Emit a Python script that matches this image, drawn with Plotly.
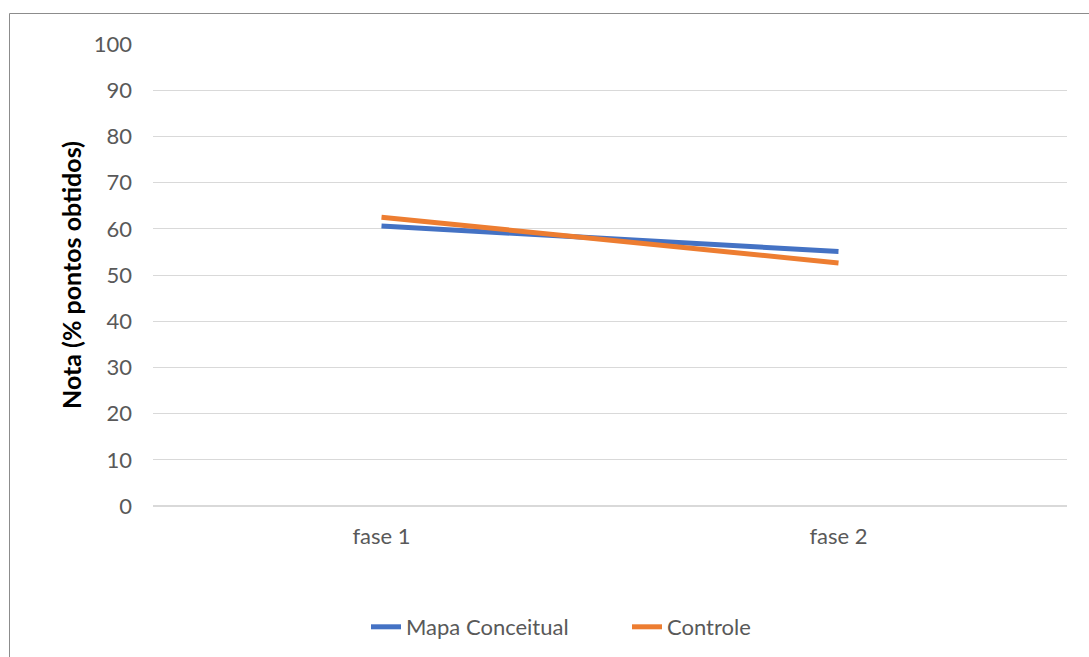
import plotly.graph_objects as go

categorias = ["fase 1", "fase 2"]
mapa_conceitual = [60.6, 55.1]
controle = [62.5, 52.6]
y_ticks = [0, 10, 20, 30, 40, 50, 60, 70, 80, 90, 100]

W, H = 1089, 657
L, R, T, B = 153, 22, 44, 151
pw, ph = W - L - R, H - T - B

def px_x(p):
    return (p - L) / pw

def px_y(p):
    return (H - B - p) / ph

fig = go.Figure()
fig.add_trace(go.Scatter(x=categorias, y=mapa_conceitual, mode="lines", name="Mapa Conceitual",
                         line=dict(color="#4472C4", width=5)))
fig.add_trace(go.Scatter(x=categorias, y=controle, mode="lines", name="Controle",
                         line=dict(color="#ED7D31", width=5)))

fig.update_layout(
    width=W, height=H,
    margin=dict(l=L, r=R, t=T, b=B, autoexpand=False),
    paper_bgcolor="white", plot_bgcolor="white",
    font=dict(family="Lato, sans-serif", color="#595959", size=22),
    showlegend=True,
    legend=dict(orientation="h", x=px_x(366), xanchor="left", y=px_y(627), yanchor="middle",
                font=dict(size=22, color="#595959"), entrywidth=216, entrywidthmode="pixels"),
    xaxis=dict(type="category", range=[-0.5, 1.5], showgrid=False, ticks="",
               showline=False, tickfont=dict(size=22), ticklabelstandoff=15),
    yaxis=dict(range=[0, 100], tickvals=y_ticks, showgrid=True, gridcolor="#D9D9D9",
               gridwidth=1, zeroline=True, zerolinecolor="#D9D9D9", zerolinewidth=1.5,
               ticks="", ticklabelstandoff=20, tickfont=dict(size=22),
               title=dict(text="<b>Nota (% pontos obtidos)</b>", standoff=4,
                          font=dict(size=25, color="black"))),
    shapes=[dict(type="rect", xref="paper", yref="paper",
                 x0=px_x(9.5), x1=px_x(1100), y0=px_y(670), y1=px_y(13.5),
                 line=dict(color="#8C8C8C", width=1), fillcolor="rgba(0,0,0,0)", layer="below")],
)

fig.write_html("out.html")
